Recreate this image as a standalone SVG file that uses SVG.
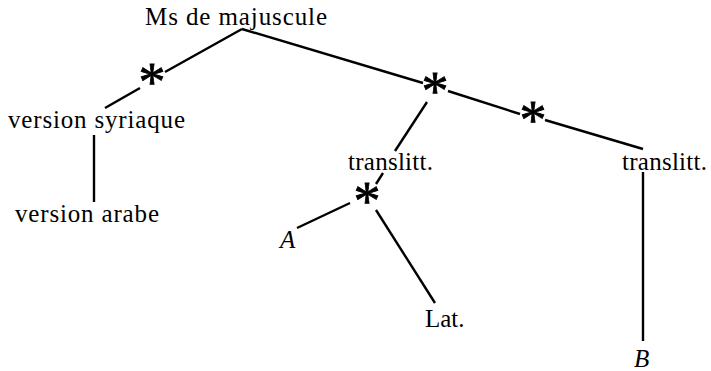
<svg xmlns="http://www.w3.org/2000/svg" width="711" height="371" viewBox="0 0 711 371">
<style>
text{font-family:"Liberation Serif","Times New Roman",serif;fill:#000}
.t{font-size:25px}
.i{font-style:italic}
.star{font-size:54px;text-anchor:middle;stroke:#000;stroke-width:0.8}
#connectors line{stroke:#000;stroke-width:2.4;stroke-linecap:butt}
</style>
<rect width="711" height="371" fill="#fff"/>
<g id="connectors">
<line x1="242" y1="29" x2="165" y2="72"/>
<line x1="140" y1="88" x2="105" y2="108"/>
<line x1="242" y1="29" x2="423" y2="83"/>
<line x1="448" y1="91" x2="520" y2="114"/>
<line x1="545" y1="120" x2="643" y2="149"/>
<line x1="427" y1="102" x2="395" y2="151"/>
<line x1="383" y1="173" x2="376" y2="184"/>
<line x1="350" y1="203" x2="297" y2="228"/>
<line x1="376" y1="210" x2="435" y2="303"/>
<line x1="94" y1="135" x2="94" y2="202"/>
<line x1="643" y1="172" x2="643" y2="341"/>
</g>
<g id="n-ms"><text class="t" x="145" y="25" textLength="182" lengthAdjust="spacing">Ms de majuscule</text></g>
<g id="n-star1"><text class="star" x="152" y="100">*</text></g>
<g id="n-star2"><text class="star" x="435" y="109">*</text></g>
<g id="n-star3"><text class="star" x="533" y="138">*</text></g>
<g id="n-star4"><text class="star" x="367" y="219">*</text></g>
<g id="n-syr"><text class="t" x="8" y="128" textLength="177" lengthAdjust="spacing">version syriaque</text></g>
<g id="n-arabe"><text class="t" x="15" y="222" textLength="144" lengthAdjust="spacing">version arabe</text></g>
<g id="n-tl1"><text class="t" x="348" y="170" textLength="85" lengthAdjust="spacing">translitt.</text></g>
<g id="n-tl2"><text class="t" x="622" y="170" textLength="85" lengthAdjust="spacing">translitt.</text></g>
<g id="n-A"><text class="t i" x="280" y="248">A</text></g>
<g id="n-lat"><text class="t" x="425" y="327">Lat.</text></g>
<g id="n-B"><text class="t i" x="634" y="367">B</text></g>
</svg>
